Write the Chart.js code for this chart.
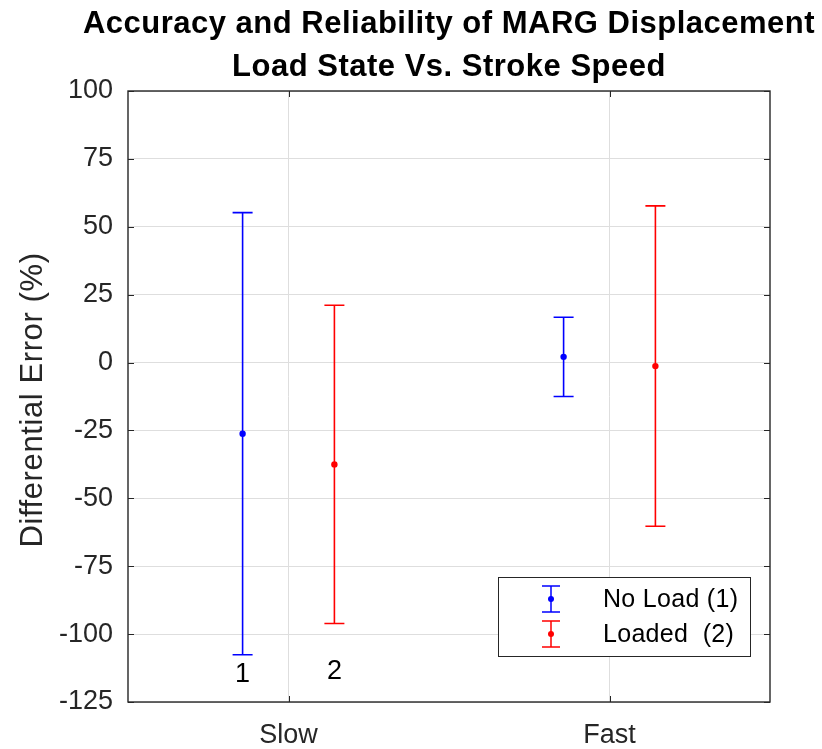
<!DOCTYPE html>
<html>
<head>
<meta charset="utf-8">
<script src="https://cdn.jsdelivr.net/npm/chart.js"></script>
<style>
  body { margin: 0; background: #fff; }
  #wrap { width: 822px; height: 749px; }
</style>
</head>
<body>
<div id="wrap"><canvas id="errChart" width="822" height="749"></canvas></div>
<script>
// categories on the x axis (MATLAB-style positions 1 and 2)
const categories = ['Slow', 'Fast'];
const categoryPos = [1, 2];

// No Load (1)
const noLoadX = [0.857, 1.857];
const noLoadMean = [-26.2, 2.1];
const noLoadErr = [81.4, 14.6];

// Loaded (2)
const loadedX = [1.143, 2.143];
const loadedMean = [-37.5, -1.3];
const loadedErr = [58.6, 59.0];

// y axis
const yMin = -125;
const yMax = 100;
const yStep = 25;

// text labels placed in the plot
const markLabels = ['1', '2'];
const markLabelX = [0.857, 1.143];
const markLabelY = [-115, -113.8];

const titleLines = ['Accuracy and Reliability of MARG Displacement', 'Load State Vs. Stroke Speed'];
const yTitle = 'Differential Error (%)';
const legendNames = ['No Load (1)', 'Loaded  (2)'];

const axisColor = '#262626';
const gridColor = '#dedede';
const FONT = '"Liberation Sans", Arial, Helvetica, sans-serif';

const errorBars = {
  id: 'errorBars',
  beforeDatasetsDraw(chart) {
    const { ctx, scales: { x, y } } = chart;
    chart.data.datasets.forEach(ds => {
      ds.data.forEach((pt, i) => {
        const px = x.getPixelForValue(pt.x);
        const top = y.getPixelForValue(pt.y + ds.errors[i]);
        const bot = y.getPixelForValue(pt.y - ds.errors[i]);
        ctx.save();
        ctx.strokeStyle = ds.borderColor;
        ctx.lineWidth = 1.6;
        ctx.beginPath();
        ctx.moveTo(px, top); ctx.lineTo(px, bot);
        ctx.moveTo(px - 10, top); ctx.lineTo(px + 10, top);
        ctx.moveTo(px - 10, bot); ctx.lineTo(px + 10, bot);
        ctx.stroke();
        ctx.restore();
      });
    });
  }
};

const decorations = {
  id: 'decorations',
  afterDraw(chart) {
    const { ctx, chartArea: a, scales: { x, y } } = chart;
    ctx.save();

    // axes box + inward ticks
    ctx.strokeStyle = axisColor;
    ctx.lineWidth = 1.4;
    ctx.strokeRect(a.left, a.top, a.right - a.left, a.bottom - a.top);
    ctx.lineWidth = 1;
    ctx.beginPath();
    y.ticks.forEach(t => {
      const py = Math.round(y.getPixelForValue(t.value)) + 0.5;
      ctx.moveTo(a.left, py); ctx.lineTo(a.left + 6, py);
      ctx.moveTo(a.right, py); ctx.lineTo(a.right - 6, py);
    });
    x.ticks.forEach(t => {
      const px = Math.round(x.getPixelForValue(t.value)) + 0.5;
      ctx.moveTo(px, a.bottom); ctx.lineTo(px, a.bottom - 6);
      ctx.moveTo(px, a.top); ctx.lineTo(px, a.top + 6);
    });
    ctx.stroke();

    // title
    ctx.fillStyle = '#000';
    ctx.textAlign = 'center';
    ctx.textBaseline = 'alphabetic';
    ctx.font = 'bold 31px ' + FONT;
    ctx.letterSpacing = '0.5px';
    ctx.fillText(titleLines[0], 449, 33);
    ctx.fillText(titleLines[1], 449, 76);

    // y axis title
    ctx.save();
    ctx.translate(33, 400);
    ctx.rotate(-Math.PI / 2);
    ctx.font = '31px ' + FONT;
    ctx.letterSpacing = '0.6px';
    ctx.fillStyle = axisColor;
    ctx.textBaseline = 'middle';
    ctx.fillText(yTitle, 0, 0);
    ctx.restore();

    // "1" / "2" labels in data coordinates
    ctx.letterSpacing = '0px';
    ctx.font = '27px ' + FONT;
    ctx.fillStyle = '#000';
    ctx.textBaseline = 'middle';
    markLabels.forEach((s, i) => {
      ctx.fillText(s, x.getPixelForValue(markLabelX[i]), y.getPixelForValue(markLabelY[i]));
    });

    // legend box
    const lx = a.right - 20 - 252, ly = a.bottom - 46 - 79;
    ctx.fillStyle = '#fff';
    ctx.fillRect(lx, ly, 252, 79);
    ctx.strokeStyle = axisColor;
    ctx.lineWidth = 1;
    ctx.strokeRect(lx + 0.5, ly + 0.5, 252, 79);
    chart.data.datasets.forEach((ds, i) => {
      const cy = ly + 22 + i * 35;
      const cx = lx + 53;
      ctx.strokeStyle = ds.borderColor;
      ctx.lineWidth = 1.5;
      ctx.beginPath();
      ctx.moveTo(cx, cy - 13); ctx.lineTo(cx, cy + 13);
      ctx.moveTo(cx - 9, cy - 13); ctx.lineTo(cx + 9, cy - 13);
      ctx.moveTo(cx - 9, cy + 13); ctx.lineTo(cx + 9, cy + 13);
      ctx.stroke();
      ctx.fillStyle = ds.backgroundColor;
      ctx.beginPath();
      ctx.arc(cx, cy, 3, 0, Math.PI * 2);
      ctx.fill();
      ctx.fillStyle = '#000';
      ctx.textAlign = 'left';
      ctx.font = '25px ' + FONT;
      ctx.letterSpacing = '0.3px';
      ctx.fillText(legendNames[i], lx + 105, cy + 1);
    });

    ctx.restore();
  }
};

new Chart(document.getElementById('errChart'), {
  type: 'scatter',
  data: {
    datasets: [
      {
        label: legendNames[0],
        data: noLoadX.map((v, i) => ({ x: v, y: noLoadMean[i] })),
        errors: noLoadErr,
        borderColor: '#0000ff',
        backgroundColor: '#0000ff',
        pointRadius: 3.2,
        pointBorderWidth: 0
      },
      {
        label: legendNames[1],
        data: loadedX.map((v, i) => ({ x: v, y: loadedMean[i] })),
        errors: loadedErr,
        borderColor: '#ff0000',
        backgroundColor: '#ff0000',
        pointRadius: 3.2,
        pointBorderWidth: 0
      }
    ]
  },
  options: {
    responsive: false,
    animation: false,
    layout: { padding: { top: 91, right: 52, bottom: 0, left: 0 } },
    plugins: {
      legend: { display: false },
      title: { display: false },
      tooltip: { enabled: false }
    },
    scales: {
      x: {
        type: 'linear',
        min: 0.5,
        max: 2.5,
        afterBuildTicks: scale => { scale.ticks = categoryPos.map(v => ({ value: v })); },
        afterFit: scale => { scale.height = 47; },
        ticks: {
          callback: v => categories[categoryPos.indexOf(v)],
          color: axisColor,
          font: { family: FONT, size: 27 },
          padding: 17,
          maxRotation: 0
        },
        grid: { color: gridColor, drawTicks: false },
        border: { display: false }
      },
      y: {
        min: yMin,
        max: yMax,
        afterFit: scale => { scale.width = 128; },
        ticks: {
          stepSize: yStep,
          color: axisColor,
          font: { family: FONT, size: 27 },
          padding: 15
        },
        grid: { color: gridColor, drawTicks: false },
        border: { display: false }
      }
    }
  },
  plugins: [errorBars, decorations]
});
</script>
</body>
</html>
